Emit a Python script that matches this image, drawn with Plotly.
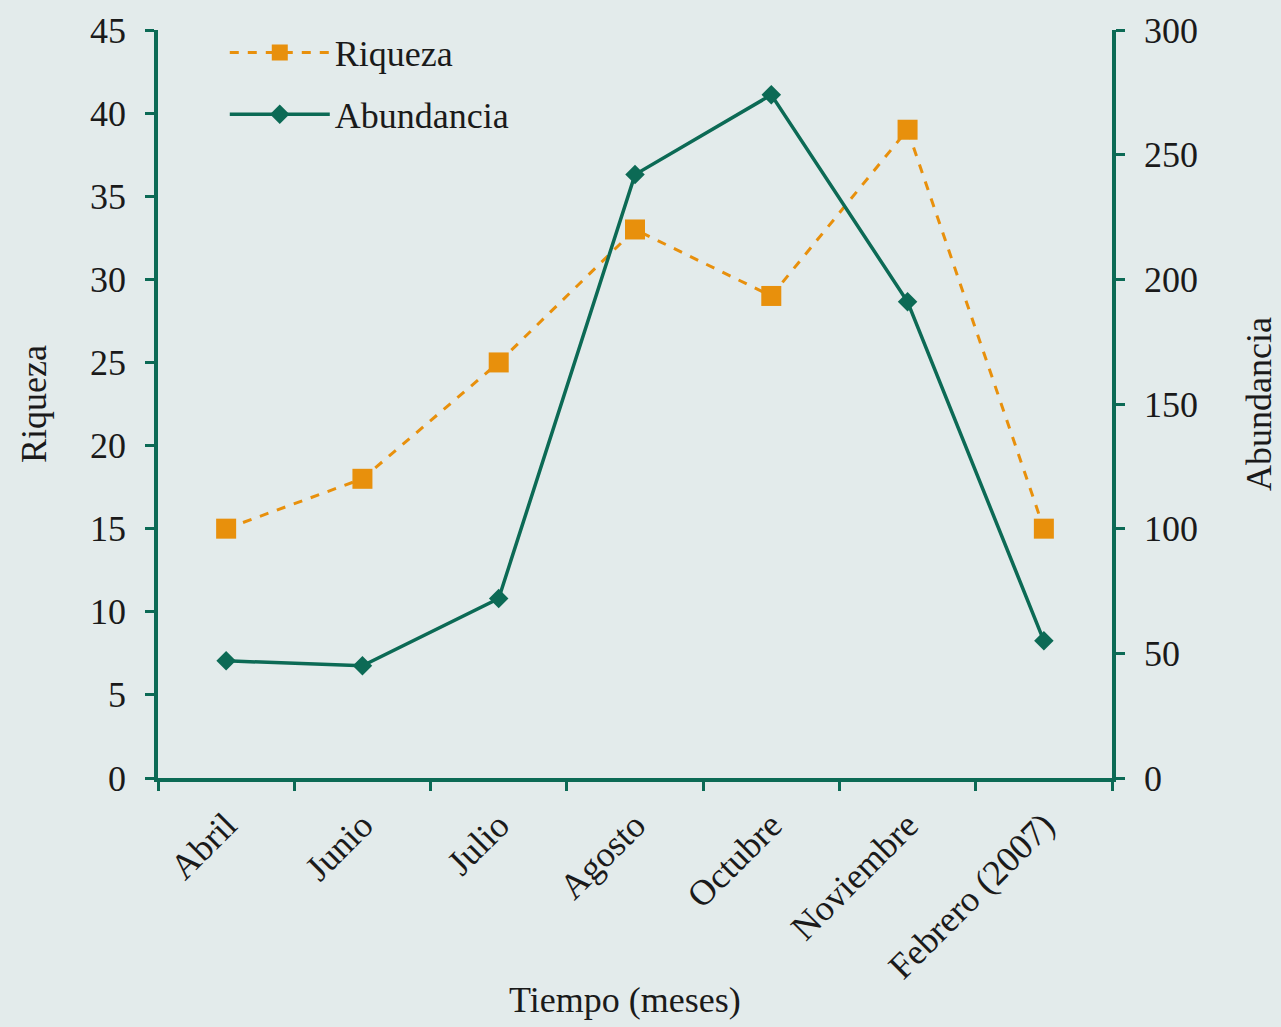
import plotly.graph_objects as go

meses = ["Abril", "Junio", "Julio", "Agosto", "Octubre", "Noviembre", "Febrero (2007)"]
riqueza = [15, 18, 25, 33, 29, 39, 15]
abundancia = [47, 45, 72, 242, 274, 191, 55]

riq_ticks = list(range(0, 50, 5))
abu_ticks = list(range(0, 350, 50))

ORANGE = "#E8900C"
GREEN = "#0C6A55"
BG = "#E3EBEB"
FONT = "Liberation Serif"
TXT = "#1a1a1a"

fig = go.Figure()
fig.add_trace(go.Scatter(
    x=meses, y=riqueza, name="Riqueza", mode="lines+markers", legendgroup="r",
    line=dict(color=ORANGE, width=3, dash="dash"),
    marker=dict(symbol="square", size=20, color=ORANGE),
    xaxis="x", yaxis="y",
))
fig.add_trace(go.Scatter(
    x=meses, y=abundancia, name="Abundancia", mode="lines+markers", legendgroup="a",
    line=dict(color=GREEN, width=3.5),
    marker=dict(symbol="diamond", size=15, color=GREEN),
    xaxis="x", yaxis="y2",
))

axfont = dict(family=FONT, size=36, color=TXT)

fig.update_layout(
    width=1281, height=1027,
    paper_bgcolor=BG, plot_bgcolor=BG,
    margin=dict(l=158, r=169, t=30, b=249),
    font=dict(family=FONT, size=36, color=TXT),
    showlegend=True,
    legend=dict(x=0.07, y=1.01, xanchor="left", yanchor="top",
                bgcolor="rgba(0,0,0,0)", font=dict(family=FONT, size=36, color=TXT),
                itemwidth=100, tracegroupgap=12),
    xaxis=dict(
        type="category", categoryorder="array", categoryarray=meses,
        range=[-0.5, 6.5], tickson="boundaries", automargin=False,
        showline=True, linecolor=GREEN, linewidth=3.5,
        ticks="outside", ticklen=9, tickwidth=2.5, tickcolor=GREEN,
        tickangle=-45, tickfont=axfont, ticklabelstandoff=8,
        showgrid=False, zeroline=False,
    ),
    xaxis2=dict(
        overlaying="x", anchor="y", side="bottom",
        range=[-0.5, 6.5], tick0=-0.5, dtick=1,
        ticks="inside", ticklen=9, tickwidth=2.5, tickcolor=GREEN,
        showticklabels=False, showgrid=False, zeroline=False, showline=False,
    ),
    yaxis=dict(
        range=[0, 45], tickvals=riq_ticks, ticktext=[str(v) for v in riq_ticks],
        automargin=False,
        showline=True, linecolor=GREEN, linewidth=3.5,
        ticks="outside", ticklen=9, tickwidth=2.5, tickcolor=GREEN,
        tickfont=axfont, ticklabelstandoff=12, showgrid=False, zeroline=False,
        title=dict(text="Riqueza", font=axfont, standoff=33),
    ),
    yaxis3=dict(
        overlaying="y", anchor="x", side="left",
        range=[0, 45], tickvals=riq_ticks,
        ticks="inside", ticklen=9, tickwidth=2.5, tickcolor=GREEN,
        showticklabels=False, showgrid=False, zeroline=False, showline=False,
    ),
    yaxis2=dict(
        overlaying="y", side="right", anchor="x",
        range=[0, 300], tickvals=abu_ticks, ticktext=[str(v) for v in abu_ticks],
        automargin=False,
        showline=True, linecolor=GREEN, linewidth=3.5,
        ticks="outside", ticklen=9, tickwidth=2.5, tickcolor=GREEN,
        tickfont=axfont, ticklabelstandoff=12, showgrid=False, zeroline=False,
        title=dict(text="Abundancia", font=axfont, standoff=50),
    ),
    yaxis4=dict(
        overlaying="y", anchor="x", side="right",
        range=[0, 300], tickvals=abu_ticks,
        ticks="inside", ticklen=9, tickwidth=2.5, tickcolor=GREEN,
        showticklabels=False, showgrid=False, zeroline=False, showline=False,
    ),
    annotations=[dict(
        text="Tiempo (meses)", xref="paper", yref="paper",
        x=0.49, y=-0.297, xanchor="center", yanchor="middle",
        showarrow=False, font=axfont,
    )],
)

fig.write_html("out.html", config={"displayModeBar": False},
               post_script="document.body.style.margin='0';document.body.style.overflow='hidden';")
